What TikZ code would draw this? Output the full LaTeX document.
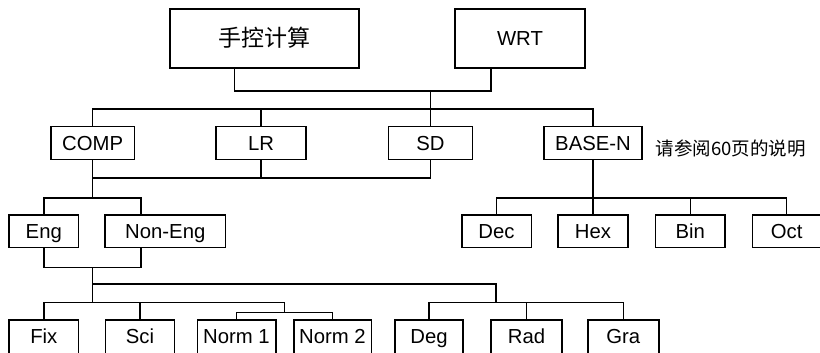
\documentclass[tikz,border=0pt]{standalone}
\usepackage{fontspec}
\setmainfont{Liberation Sans}
\newfontfamily\cjk{Noto Sans CJK SC}
\begin{document}
\begin{tikzpicture}[x=1pt,y=-1pt, line width=1.4pt,
  box/.style={draw, inner sep=0pt, outer sep=0pt, font=\fontsize{20.3}{24}\selectfont,
    text height=14.5pt, text depth=0pt, minimum height=32.5pt},
  lowbox/.style={draw, anchor=north, inner xsep=0pt, inner ysep=8.8pt, outer sep=0pt,
    font=\fontsize{20.3}{24}\selectfont, text height=14.5pt, text depth=30pt},
  wire/.style={line width=1.4pt}]
\useasboundingbox (0,0) rectangle (820,353);
\clip (0,0) rectangle (820,353);
% top
\node[box, minimum width=189pt, minimum height=59pt, font=\cjk\fontsize{23}{26}\selectfont,
  text height=19pt, text depth=2.5pt] (hand) at (264.5,38.5) {手控计算};
\node[box, minimum width=130pt, minimum height=59pt] (wrt) at (520,38.5) {WRT};
% row 2
\node[box, minimum width=83.3pt] (comp) at (92.6,143) {COMP};
\node[box, minimum width=90pt] (lr) at (261,143) {LR};
\node[box, minimum width=84.3pt] (sd) at (430.5,143) {SD};
\node[box, minimum width=98pt] (base) at (593,143) {BASE-N};
\node[anchor=west, inner sep=0pt, font=\cjk\fontsize{18.5}{22}\selectfont] (note) at (655,148) {请参阅60页的说明};
% row 3
\node[box, minimum width=69.7pt, minimum height=32.7pt] (eng) at (43.8,231.3) {Eng};
\node[box, minimum width=120.7pt, minimum height=32.7pt] (noneng) at (165.3,231.3) {Non-Eng};
\node[box, minimum width=69.4pt, minimum height=32.7pt] (dec) at (496.5,231.3) {Dec};
\node[box, minimum width=70pt, minimum height=32.7pt] (hex) at (593,231.3) {Hex};
\node[box, minimum width=69.3pt, minimum height=32.7pt] (bin) at (690.2,231.3) {Bin};
\node[box, minimum width=69pt, minimum height=32.7pt] (oct) at (786.7,231.3) {Oct};
% row 4
\node[lowbox, minimum width=69.7pt] (fix) at (43.8,320) {Fix};
\node[lowbox, minimum width=69pt] (sci) at (140,320) {Sci};
\node[lowbox, minimum width=78.6pt] (n1) at (236.5,320) {Norm 1};
\node[lowbox, minimum width=77.4pt] (n2) at (332.5,320) {Norm 2};
\node[lowbox, minimum width=67.7pt] (deg) at (429,320) {Deg};
\node[lowbox, minimum width=71pt] (rad) at (526.5,320) {Rad};
\node[lowbox, minimum width=71pt] (gra) at (623.3,320) {Gra};
% junction coordinates
\coordinate (topbus) at (0,91);
\coordinate (bus2) at (0,109);
\coordinate (bus3) at (0,178);
\coordinate (bus4) at (0,198);
\coordinate (bus5) at (0,267.3);
\coordinate (bus6) at (0,284);
\coordinate (bus7) at (0,302.3);
\coordinate (bus8) at (0,312.7);
\coordinate (nonengx) at (141,0);
\coordinate (normx) at (284.3,0);
\coordinate (anglex) at (496,0);
% connectors
\draw[wire] (234.7,0 |- hand.south) |- (491,0 |- topbus) -- (491,0 |- wrt.south);
\draw[wire] (sd.north) -- (sd.north |- topbus);
\draw[wire] (comp.north) |- (base.north |- bus2) -- (base.north);
\draw[wire] (lr.north) -- (lr.north |- bus2);
\draw[wire] (comp.south) |- (sd.south |- bus3) -- (sd.south);
\draw[wire] (lr.south) -- (lr.south |- bus3);
\draw[wire] (comp.south |- bus3) -- (comp.south |- bus4);
\draw[wire] (eng.north) |- (nonengx |- bus4) -- (nonengx |- noneng.north);
\draw[wire] (base.south) -- (base.south |- bus4);
\draw[wire] (dec.north) |- (oct.north |- bus4) -- (oct.north);
\draw[wire] (hex.north) -- (hex.north |- bus4);
\draw[wire] (bin.north) -- (bin.north |- bus4);
\draw[wire] (eng.south) |- (nonengx |- bus5) -- (nonengx |- noneng.south);
\draw[wire] (comp.south |- bus5) -- (comp.south |- bus7);
\draw[wire] (comp.south |- bus6) -| (anglex |- bus7);
\draw[wire] (deg.north) |- (gra.north |- bus7) -- (gra.north);
\draw[wire] (rad.north) -- (rad.north |- bus7);
\draw[wire] (fix.north) |- (normx |- bus7) -- (normx |- bus8);
\draw[wire] (sci.north) -- (sci.north |- bus7);
\draw[wire] (n1.north) |- (n2.north |- bus8) -- (n2.north);
\end{tikzpicture}
\end{document}
